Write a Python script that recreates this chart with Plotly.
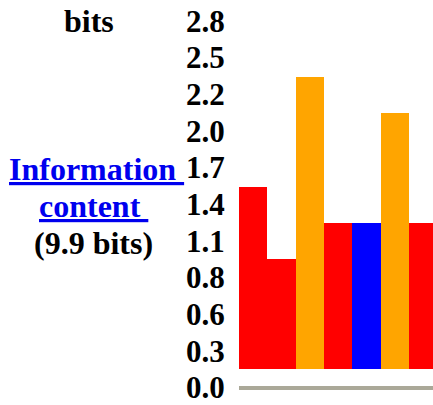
import plotly.graph_objects as go

# Data
positions = [1, 2, 3, 4, 5, 6, 7]
bits_values = [1.41, 0.85, 2.26, 1.13, 1.13, 1.98, 1.13]
bar_colors = ["#ff0000", "#ff0000", "#ffa500", "#ff0000", "#0000ff", "#ffa500", "#ff0000"]
tick_values = [0.0, 0.28, 0.56, 0.84, 1.12, 1.40, 1.68, 1.96, 2.24, 2.52, 2.80]
tick_labels = ["0.0", "0.3", "0.6", "0.8", "1.1", "1.4", "1.7", "2.0", "2.2", "2.5", "2.8"]
total_bits = "9.9"

W, H = 433, 405
L = 239
plot_w = W - L
FONT = "Liberation Serif"
FS_TICK = 31
FS_TEXT = 32

fig = go.Figure()
fig.add_trace(go.Bar(
    x=positions, y=bits_values, marker=dict(color=bar_colors, line=dict(width=0)),
    width=1.0, yaxis="y", showlegend=False, hoverinfo="skip",
))
# invisible trace to activate the label axis
fig.add_trace(go.Scatter(x=[positions[0]], y=[0], yaxis="y2", mode="markers",
                         marker=dict(opacity=0), showlegend=False, hoverinfo="skip"))

k_bar = 130.3
r0_bar = -(H - 371.7) / k_bar
k_lab = 132.0
r0_lab = -(H - 390.5) / k_lab

unit = 28.33
x_r1 = 0.5 + plot_w / unit

def px(xp):
    return (xp - L) / plot_w

def py(yp):
    return 1 - yp / H

fig.update_layout(
    width=W, height=H,
    margin=dict(l=L, r=0, t=0, b=0),
    paper_bgcolor="white", plot_bgcolor="white",
    bargap=0,
    xaxis=dict(range=[0.5, x_r1], visible=False, fixedrange=True),
    yaxis=dict(range=[r0_bar, r0_bar + H / k_bar], visible=False),
    yaxis2=dict(
        range=[r0_lab, r0_lab + H / k_lab], overlaying="y", side="left",
        showgrid=False, zeroline=True, zerolinecolor="#aaa898", zerolinewidth=4,
        showline=False, tickmode="array", tickvals=tick_values, ticktext=tick_labels,
        ticks="outside", ticklen=7, tickcolor="rgba(0,0,0,0)",
        ticklabeloverflow="allow",
        tickfont=dict(family=FONT, size=FS_TICK, color="black", weight="bold"),
    ),
    font=dict(family=FONT, size=FS_TICK, color="black"),
)

ann_font = dict(family=FONT, size=FS_TEXT, color="black", weight="bold")
link_font = dict(family=FONT, size=FS_TEXT, color="#0000ee", weight="bold")
fig.add_annotation(text="bits", x=px(89), y=py(21), xref="paper", yref="paper",
                   showarrow=False, font=ann_font, xanchor="center", yanchor="middle")
fig.add_annotation(text="<u>Information&nbsp;</u>", x=px(96), y=py(170), xref="paper", yref="paper",
                   showarrow=False, font=link_font, xanchor="center", yanchor="middle")
fig.add_annotation(text="<u>content&nbsp;</u>", x=px(93), y=py(208), xref="paper", yref="paper",
                   showarrow=False, font=link_font, xanchor="center", yanchor="middle")
fig.add_annotation(text=f"({total_bits} bits)", x=px(93), y=py(245), xref="paper", yref="paper",
                   showarrow=False, font=ann_font, xanchor="center", yanchor="middle")

fig.write_html(
    "out.html",
    config={"displayModeBar": False},
    post_script="document.body.style.margin='0';document.body.style.overflow='hidden';",
)
